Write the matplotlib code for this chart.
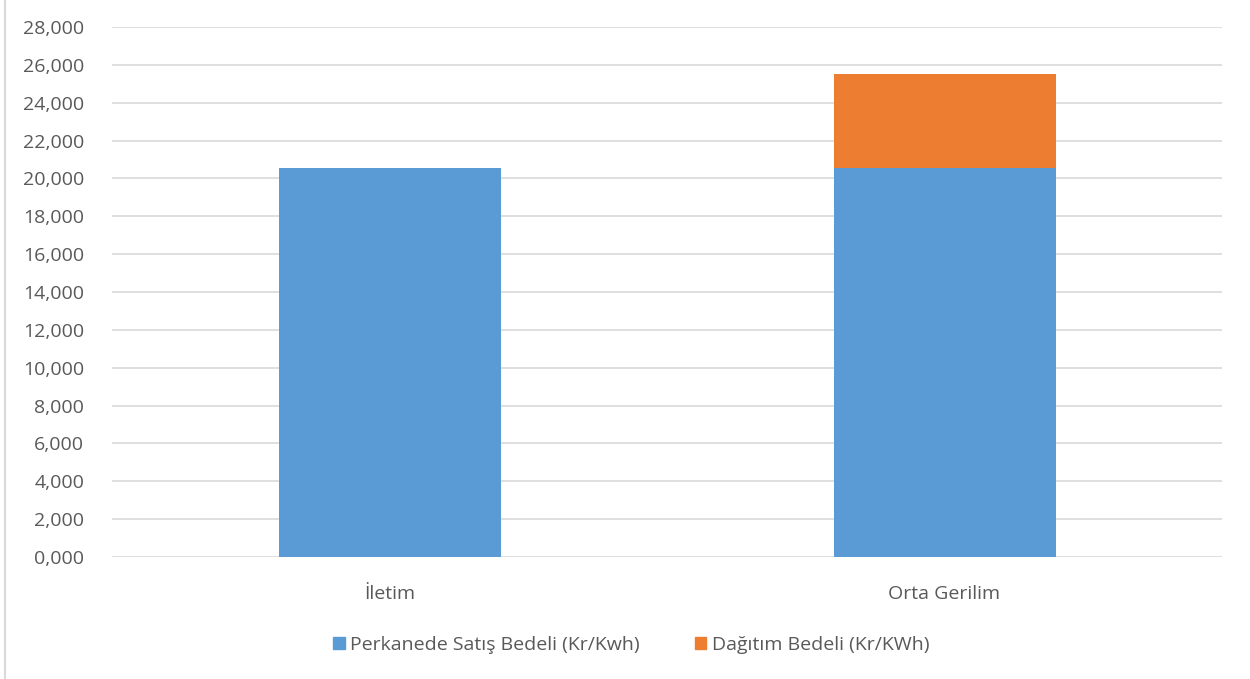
import matplotlib.pyplot as plt
from matplotlib.patches import Patch
from matplotlib.lines import Line2D
from matplotlib.ticker import FuncFormatter, MultipleLocator

plt.rcParams.update({
    'font.family': ['Open Sans', 'DejaVu Sans'],
    'font.size': 14,
})

# data (kr/kWh)
categories = ['İletim', 'Orta Gerilim']
perakende = [20.530, 20.530]
dagitim = [0.0, 4.990]
series_names = ['Perkanede Satış Bedeli (Kr/Kwh)', 'Dağıtım Bedeli (Kr/KWh)']
colors = ['#5b9bd5', '#ed7d31']

fig = plt.figure(figsize=(12.5, 6.79), dpi=100)
ax = fig.add_axes([0.0896, 0.1797, 0.888, 0.7805])

x = range(len(categories))
ax.bar(x, perakende, width=0.4, color=colors[0], zorder=2)
ax.bar(x, dagitim, width=0.4, bottom=perakende, color=colors[1], zorder=2)

ax.set_xlim(-0.5, len(categories) - 0.5)
ax.set_ylim(0, 28)
ax.yaxis.set_major_locator(MultipleLocator(2))
ax.yaxis.set_major_formatter(FuncFormatter(lambda v, p: f"{v:.3f}".replace('.', ',')))
ax.set_xticks(list(x))
ax.set_xticklabels(categories)
ax.grid(axis='y', color='#d9d9d9', linewidth=1.2, zorder=0)
ax.set_axisbelow(True)
for s in ax.spines.values():
    s.set_visible(False)
ax.tick_params(length=0, colors='#595959', labelsize=14)
ax.tick_params(axis='y', pad=20)
ax.tick_params(axis='x', pad=20)

# thin frame line at the left edge of the chart area
fig.add_artist(Line2D([0.004, 0.004], [0, 1], transform=fig.transFigure,
                      color='#d9d9d9', linewidth=1.5))

handles = [Patch(color=c) for c in colors]
fig.legend(handles, series_names, loc='center', bbox_to_anchor=(0.505, 0.05),
           ncol=2, frameon=False, handlelength=0.6, handleheight=0.6,
           handletextpad=0.3, columnspacing=2.8, fontsize=14,
           labelcolor='#595959')

fig.savefig('out.png', dpi=100)
